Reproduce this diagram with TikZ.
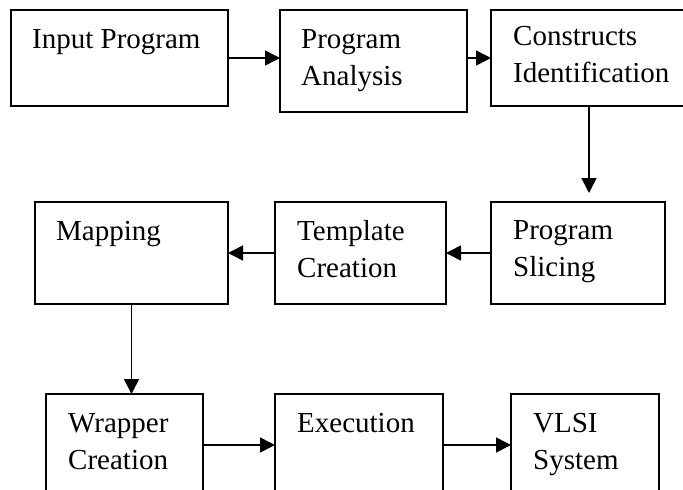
\documentclass[tikz,border=0pt]{standalone}
\usepackage{fontspec}
\setmainfont{Liberation Serif}
\usetikzlibrary{arrows.meta}
\begin{document}
\begin{tikzpicture}[x=1pt,y=-1pt,
  box/.style={draw, line width=2pt, inner sep=0pt, outer sep=0pt, anchor=north west},
  lbl/.style={anchor=base west, inner sep=0pt, align=left, font=\fontsize{29}{37}\selectfont},
  conn/.style={line width=1.6pt, -{Triangle[length=15pt,width=15pt]}}]
\useasboundingbox (0,0) rectangle (683,490);
% boxes
\node[box, minimum width=217pt, minimum height=96pt]  (b1) at (11,10) {};
\node[box, minimum width=187pt, minimum height=102pt] (b2) at (280,10) {};
\node[box, minimum width=220pt, minimum height=96pt]  (b3) at (491,10) {};
\node[box, minimum width=193pt, minimum height=102pt] (b4) at (35,202) {};
\node[box, minimum width=171pt, minimum height=102pt] (b5) at (275,202) {};
\node[box, minimum width=174pt, minimum height=102pt] (b6) at (491,202) {};
\node[box, minimum width=157pt, minimum height=102pt] (b7) at (46,394) {};
\node[box, minimum width=168pt, minimum height=102pt] (b8) at (275,394) {};
\node[box, minimum width=148pt, minimum height=102pt] (b9) at (511,394) {};
% labels (base anchor = baseline of the last line)
\node[lbl] (t1) at ([shift={(21,38)}]b1.north west) {Input Program};
\node[lbl] (t2) at ([shift={(21,75)}]b2.north west) {Program\\Analysis};
\node[lbl] (t3) at ([shift={(22,72)}]b3.north west) {Constructs\\Identification};
\node[lbl] (t4) at ([shift={(21,38)}]b4.north west) {Mapping};
\node[lbl] (t5) at ([shift={(22,75)}]b5.north west) {Template\\Creation};
\node[lbl] (t6) at ([shift={(22,74)}]b6.north west) {Program\\Slicing};
\node[lbl] (t7) at ([shift={(22,75)}]b7.north west) {Wrapper\\Creation};
\node[lbl] (t8) at ([shift={(22,38)}]b8.north west) {Execution};
\node[lbl] (t9) at ([shift={(22,75)}]b9.north west) {VLSI\\System};
% connectors
\coordinate (d1) at (589,193);
\draw[conn] (b1.east) -- (b2.west |- b1.east);
\draw[conn] (b2.east |- b3.west) -- (b3.west);
\draw[conn] (b3.south -| d1) -- (d1);
\draw[conn] (b6.west) -- (b5.east);
\draw[conn] (b5.west) -- (b4.east);
\draw[conn] (b4.south) -- (b4.south |- b7.north);
\draw[conn] (b7.east) -- (b8.west);
\draw[conn] (b8.east) -- (b9.west);
\end{tikzpicture}
\end{document}
